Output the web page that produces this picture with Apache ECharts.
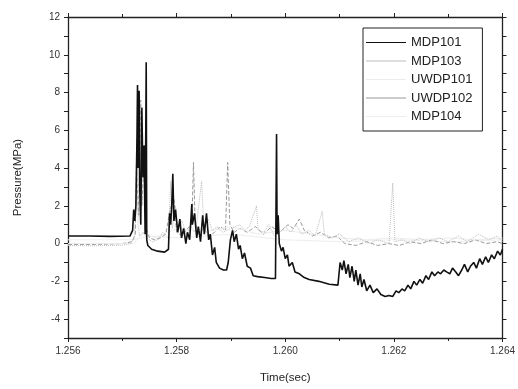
<!DOCTYPE html>
<html><head><meta charset="utf-8">
<script src="https://cdn.jsdelivr.net/npm/echarts@6/dist/echarts.min.js"></script>
<style>html,body{margin:0;padding:0;background:#fff}#c{width:518px;height:389px}</style>
</head><body><div id="c"></div>
<script>
const seriesNames = ['MDP101','MDP103','UWDP101','UWDP102','MDP104'];
const xTicks = [1.256, 1.258, 1.260, 1.262, 1.264];
const yTicks = [-4, -2, 0, 2, 4, 6, 8, 10, 12];

const mdp101 = [[1.25600,0.40],[1.25640,0.40],[1.25677,0.38],[1.25714,0.40],[1.25719,0.7],[1.25721,1.8],[1.25723,1.2],[1.25725,2.0],[1.25727,5.6],[1.25728,8.4],[1.25729,4.0],[1.25731,8.1],[1.25732,3.0],[1.25734,1.0],[1.25736,7.2],[1.25738,3.5],[1.25740,5.2],[1.25742,0.5],[1.25744,9.6],[1.25745,0.2],[1.25747,-0.1],[1.25754,-0.3],[1.25765,-0.4],[1.25778,-0.45],[1.25785,-0.3],[1.25787,1.6],[1.25789,1.0],[1.25791,2.0],[1.25793,3.7],[1.25795,1.2],[1.25798,1.8],[1.25802,0.6],[1.25806,1.3],[1.25809,0.3],[1.25813,0.8],[1.25817,0.0],[1.25820,0.6],[1.25824,0.2],[1.25828,2.1],[1.25829,1.0],[1.25833,1.6],[1.25837,0.3],[1.25840,0.9],[1.25844,0.1],[1.25848,1.5],[1.25851,0.5],[1.25855,1.6],[1.25859,0.2],[1.25862,0.5],[1.25866,-0.6],[1.25870,-0.2],[1.25873,-1.0],[1.25879,-1.3],[1.25886,-1.4],[1.25892,-1.4],[1.25895,-1.0],[1.25899,0.2],[1.25903,0.7],[1.25906,0.1],[1.25910,0.5],[1.25914,-0.3],[1.25917,-0.1],[1.25921,-0.8],[1.25925,-0.5],[1.25930,-1.2],[1.25936,-1.3],[1.25941,-1.7],[1.25949,-1.75],[1.25962,-1.8],[1.25974,-1.85],[1.25982,-1.85],[1.25984,5.8],[1.25985,0.5],[1.25987,1.5],[1.25989,0.0],[1.25993,-0.4],[1.25996,-0.2],[1.26000,-0.8],[1.26004,-0.6],[1.26007,-1.2],[1.26013,-1.0],[1.26018,-1.5],[1.26026,-1.6],[1.26035,-1.8],[1.26044,-1.9],[1.26062,-2.0],[1.26081,-2.15],[1.26097,-2.2],[1.26101,-1.0],[1.26105,-1.4],[1.26108,-0.9],[1.26112,-1.6],[1.26116,-1.1],[1.26119,-1.8],[1.26123,-1.2],[1.26127,-2.0],[1.26130,-1.4],[1.26134,-2.2],[1.26138,-1.6],[1.26141,-2.3],[1.26145,-1.9],[1.26150,-2.5],[1.26156,-2.2],[1.26162,-2.6],[1.26169,-2.4],[1.26176,-2.7],[1.26184,-2.8],[1.26191,-2.75],[1.26198,-2.8],[1.26204,-2.5],[1.26209,-2.6],[1.26215,-2.4],[1.26220,-2.5],[1.26226,-2.2],[1.26231,-2.4],[1.26237,-2.0],[1.26242,-2.2],[1.26248,-1.9],[1.26253,-2.1],[1.26259,-1.7],[1.26264,-1.9],[1.26270,-1.5],[1.26275,-1.7],[1.26281,-1.5],[1.26286,-1.6],[1.26292,-1.4],[1.26297,-1.5],[1.26303,-1.6],[1.26308,-1.3],[1.26314,-1.5],[1.26319,-1.7],[1.26325,-1.4],[1.26330,-1.1],[1.26336,-1.5],[1.26341,-1.2],[1.26347,-1.0],[1.26352,-1.3],[1.26358,-0.8],[1.26363,-1.1],[1.26369,-0.7],[1.26374,-1.0],[1.26380,-0.6],[1.26385,-0.8],[1.26391,-0.4],[1.26396,-0.6],[1.26400,-0.3]];

const mdp103 = [[1.25600,-0.10],[1.25650,-0.12],[1.25700,-0.08],[1.25715,0.00],[1.25722,0.30],[1.25725,2.0],[1.25727,5.6],[1.25729,1.0],[1.25732,0.4],[1.25738,0.6],[1.25745,0.3],[1.25755,0.1],[1.25765,0.2],[1.25775,0.6],[1.25785,0.3],[1.25789,3.3],[1.25792,0.8],[1.25798,2.0],[1.25802,0.7],[1.25810,1.2],[1.25818,0.5],[1.25825,0.9],[1.25835,0.6],[1.25846,3.3],[1.25850,0.9],[1.25858,1.3],[1.25866,0.7],[1.25875,0.9],[1.25885,0.6],[1.25900,0.8],[1.25916,1.0],[1.25925,0.7],[1.25934,0.9],[1.25947,2.0],[1.25950,0.7],[1.25961,0.6],[1.25970,1.0],[1.25980,0.4],[1.25990,0.6],[1.26000,0.9],[1.26010,0.6],[1.26020,1.0],[1.26030,0.5],[1.26044,0.7],[1.26055,0.4],[1.26068,1.7],[1.26072,0.5],[1.26085,0.3],[1.26100,0.5],[1.26117,0.1],[1.26135,0.3],[1.26154,0.0],[1.26170,0.2],[1.26191,0.0],[1.26198,3.2],[1.26202,0.1],[1.26215,0.2],[1.26230,0.0],[1.26246,0.3],[1.26265,0.1],[1.26283,0.3],[1.26300,0.1],[1.26319,0.4],[1.26335,0.1],[1.26356,0.5],[1.26375,0.2],[1.26390,0.4],[1.26400,0.1]];

const uwdp101 = [[1.25600,0.0],[1.25720,0.0],[1.25740,0.6],[1.25760,0.3],[1.25800,0.8],[1.25850,0.6],[1.25900,0.9],[1.25950,0.5],[1.26000,0.7],[1.26050,0.5],[1.26100,0.3],[1.26150,0.2],[1.26200,0.3],[1.26250,0.2],[1.26300,0.3],[1.26350,0.2],[1.26400,0.3]];

const uwdp102 = [[1.25600,-0.05],[1.25650,-0.05],[1.25700,0.0],[1.25718,0.1],[1.25724,0.5],[1.25726,4.2],[1.25730,1.5],[1.25734,7.6],[1.25736,2.0],[1.25741,5.2],[1.25744,0.8],[1.25750,0.3],[1.25760,0.2],[1.25770,0.3],[1.25780,0.5],[1.25788,1.8],[1.25795,2.4],[1.25800,0.6],[1.25810,0.4],[1.25820,0.8],[1.25828,1.0],[1.25831,4.3],[1.25834,1.2],[1.25840,0.5],[1.25850,0.8],[1.25860,0.4],[1.25870,0.6],[1.25880,0.9],[1.25890,0.7],[1.25894,4.3],[1.25898,1.0],[1.25906,0.6],[1.25916,0.8],[1.25930,0.6],[1.25945,0.9],[1.25960,0.5],[1.25975,0.9],[1.25990,0.6],[1.26005,1.0],[1.26015,0.8],[1.26026,1.3],[1.26035,0.7],[1.26050,0.4],[1.26065,0.6],[1.26080,0.3],[1.26095,0.4],[1.26110,0.0],[1.26130,-0.1],[1.26150,0.1],[1.26170,-0.1],[1.26190,0.0],[1.26210,-0.1],[1.26230,0.1],[1.26250,0.0],[1.26270,0.2],[1.26290,0.0],[1.26310,0.1],[1.26330,0.0],[1.26350,0.2],[1.26370,0.0],[1.26390,0.1],[1.26400,0.0]];

const mdp104 = [[1.25600,0.2],[1.25720,0.2],[1.25750,0.4],[1.25800,0.3],[1.25900,0.5],[1.26000,0.2],[1.26100,0.1],[1.26200,0.2],[1.26300,0.1],[1.26400,0.2]];

const seriesData = [mdp101, mdp103, uwdp101, uwdp102, mdp104];
const seriesColors = ['#111111', '#bdbdbd', '#ececec', '#9a9a9a', '#eeeeee'];
const seriesTypes = ['solid', 'dotted', 'solid', 'dashed', 'solid'];
const seriesWidths = [1.6, 1, 1, 1, 1];

const font = 'Liberation Sans, Arial, sans-serif';
const chart = echarts.init(document.getElementById('c'), null, {renderer: 'canvas'});

const axisLine = {show: true, onZero: false, lineStyle: {color: '#222', width: 1.3}};
const axisTick = {show: true, length: 4, inside: false, lineStyle: {color: '#222', width: 1}};
const xMinorTick = {show: true, splitNumber: 2, length: 3, lineStyle: {color: '#222', width: 1}};

chart.setOption({
  animation: false,
  backgroundColor: '#fff',
  grid: {left: 68, right: 14, top: 17, bottom: 49, containLabel: false},
  legend: {
    orient: 'vertical', left: 363, top: 28, width: 128,
    data: seriesNames,
    backgroundColor: '#fff', borderColor: '#222', borderWidth: 1,
    padding: [8, 10, 8, 3], itemGap: 5.5, itemWidth: 40, itemHeight: 14,
    textStyle: {fontFamily: font, fontSize: 13, color: '#222'},
    icon: 'path://M0,7L40,7L40,8L0,8Z'
  },
  xAxis: [{
    type: 'value', min: 1.256, max: 1.264, interval: 0.002,
    name: 'Time(sec)', nameLocation: 'middle', nameGap: 34,
    nameTextStyle: {fontFamily: font, fontSize: 11.5, color: '#222'},
    axisLine: axisLine, axisTick: axisTick, minorTick: xMinorTick,
    splitLine: {show: false},
    axisLabel: {fontFamily: font, fontSize: 10, color: '#333', margin: 8,
      formatter: v => { const t = xTicks.find(k => Math.abs(k - v) < 1e-7); return t !== undefined ? t.toFixed(3) : ''; }}
  }, {
    type: 'value', position: 'top', min: 1.256, max: 1.264, interval: 0.002,
    axisLine: axisLine, axisTick: axisTick, minorTick: xMinorTick,
    splitLine: {show: false}, axisLabel: {show: false}
  }],
  yAxis: [{
    type: 'value', min: -5, max: 12, interval: 1,
    name: 'Pressure(MPa)', nameLocation: 'middle', nameGap: 44, nameRotate: 90,
    nameTextStyle: {fontFamily: font, fontSize: 11.5, color: '#222'},
    axisLine: axisLine, axisTick: axisTick,
    splitLine: {show: false},
    axisLabel: {fontFamily: font, fontSize: 10, color: '#333', margin: 8,
      formatter: v => yTicks.includes(v) ? String(v) : ''}
  }, {
    type: 'value', position: 'right', min: -5, max: 12, interval: 1,
    axisLine: axisLine, axisTick: axisTick,
    splitLine: {show: false}, axisLabel: {show: false}
  }],
  series: seriesNames.map((n, i) => ({
    name: n, type: 'line', data: seriesData[i], showSymbol: false, symbol: 'none',
    xAxisIndex: 0, yAxisIndex: 0, z: 10 - i,
    lineStyle: {color: seriesColors[i], width: seriesWidths[i], type: seriesTypes[i]},
    itemStyle: {color: seriesColors[i]}
  }))
});
</script></body></html>
